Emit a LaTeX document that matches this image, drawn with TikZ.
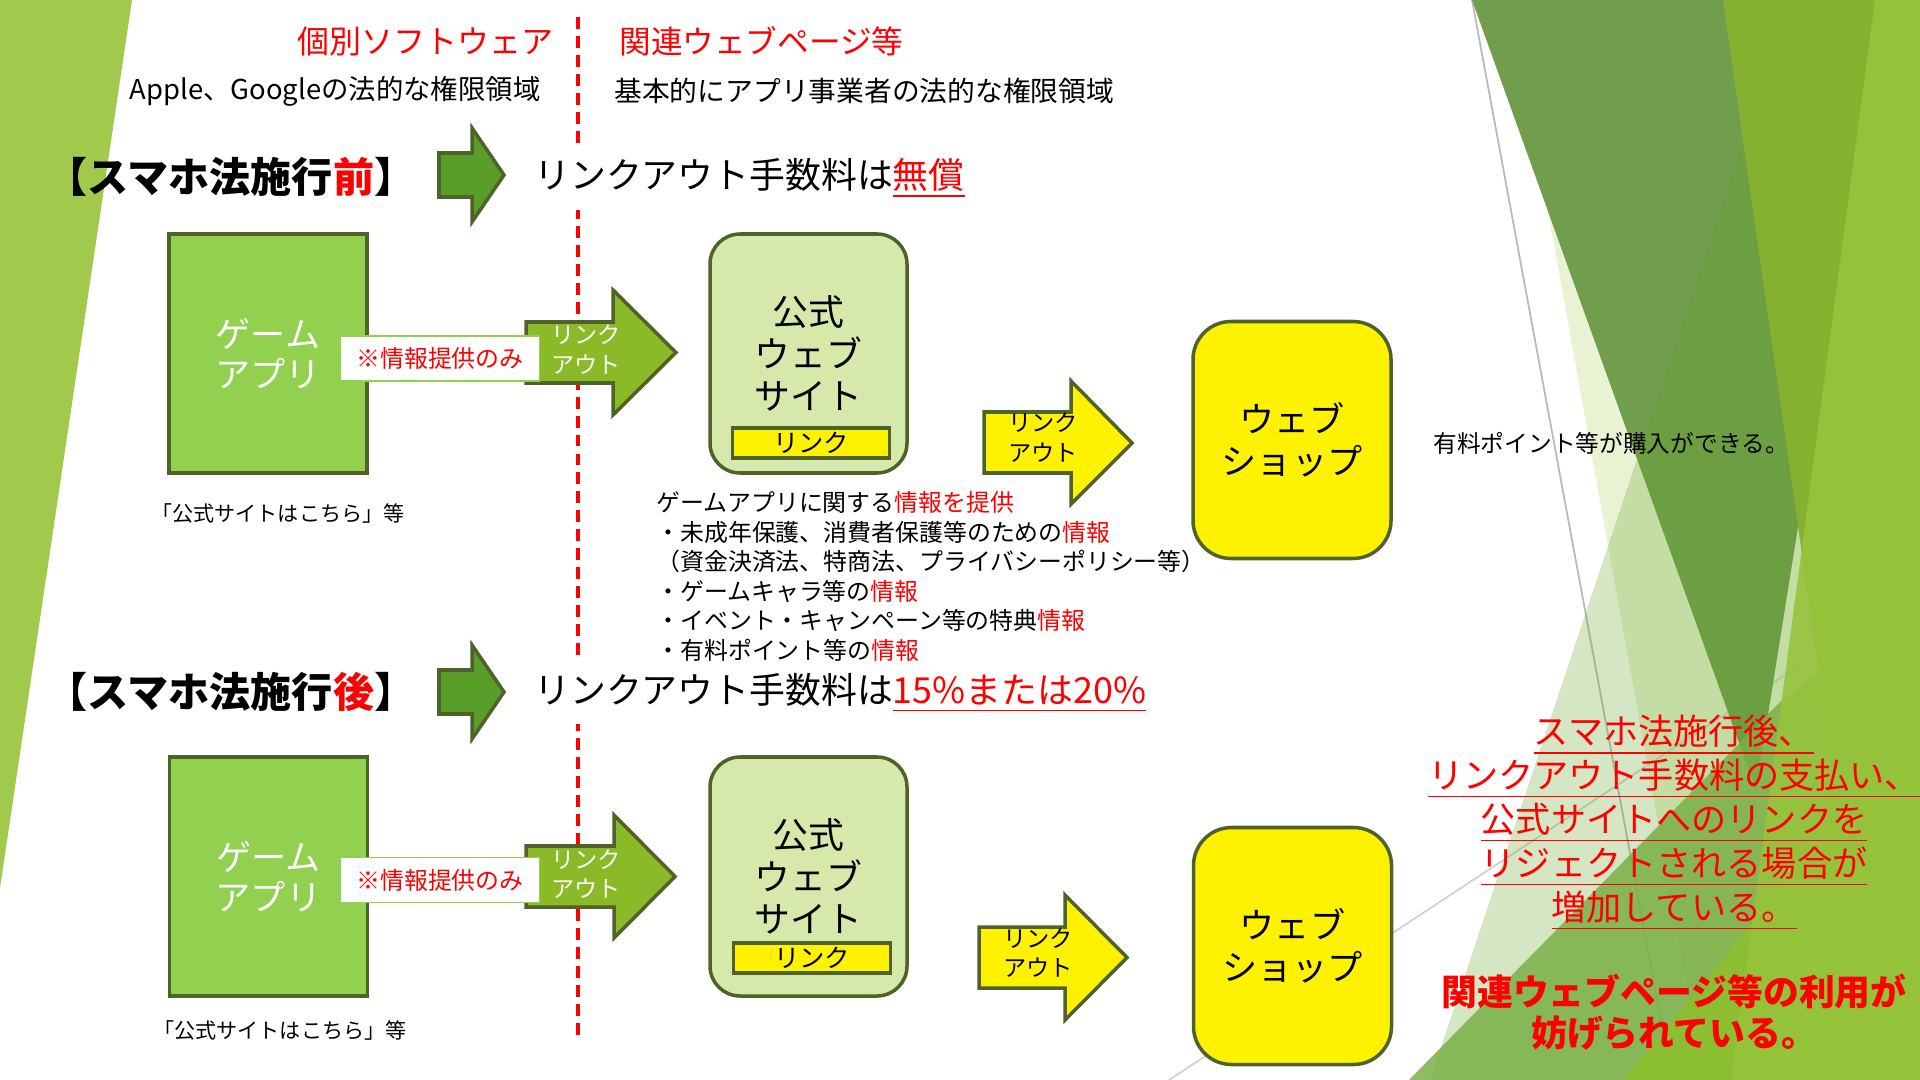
\documentclass[tikz,border=0pt]{standalone}
\usepackage{fontspec}
\setmainfont{Noto Sans CJK JP}

\definecolor{leafgreen}{RGB}{146,208,80}
\definecolor{olivedark}{RGB}{79,98,40}
\definecolor{sitegreen}{RGB}{214,233,170}
\definecolor{linkgreen}{RGB}{139,186,40}
\definecolor{headgreen}{RGB}{90,158,42}
\definecolor{facetleft}{RGB}{161,201,76}
\definecolor{facetgreen}{RGB}{144,194,38}
\definecolor{facetmuted}{RGB}{112,158,76}
\definecolor{facetdark}{RGB}{100,165,40}
\definecolor{facetmid}{RGB}{122,176,70}
\definecolor{facetbright}{RGB}{132,178,48}
\definecolor{facetbottom}{RGB}{139,190,48}
\definecolor{facetlight}{RGB}{150,196,60}

\begin{document}
\begin{tikzpicture}[thick]
\tikzstyle{appbox}=[draw=olivedark,line width=1pt,fill=leafgreen,minimum width=1.98cm,minimum height=2.39cm,inner sep=0pt,text=white,align=center,font=\fontsize{10}{11.4}\selectfont]
\tikzstyle{sitebox}=[draw=olivedark,line width=1pt,fill=sitegreen,rounded corners=0.3cm,minimum width=1.97cm,minimum height=2.39cm,inner sep=0pt,align=center,font=\fontsize{10.2}{12}\selectfont]
\tikzstyle{shopbox}=[draw=olivedark,line width=1pt,fill=yellow,rounded corners=0.38cm,minimum width=1.98cm,minimum height=2.37cm,inner sep=0pt,align=center,font=\fontsize{10}{12}\selectfont]
\tikzstyle{linkbox}=[draw=olivedark,line width=1pt,fill=yellow,minimum width=1.57cm,minimum height=0.30cm,inner sep=0pt,font=\fontsize{7.2}{8}\selectfont]
\tikzstyle{infobox}=[draw=leafgreen,line width=0.5pt,fill=white,minimum width=1.99cm,minimum height=0.45cm,inner sep=0pt,text=red,font=\fontsize{6.8}{8}\selectfont]
\tikzstyle{greenarrow}=[draw=olivedark,line width=1pt,fill=linkgreen]
\tikzstyle{yellowarrow}=[draw=olivedark,line width=1pt,fill=yellow]
\tikzstyle{headarrow}=[draw=olivedark,line width=1pt,fill=headgreen]
\tikzstyle{arrowtext}=[inner sep=0pt,align=center,font=\fontsize{6.6}{8.5}\selectfont]
\tikzstyle{divider}=[red,line width=0.9pt,dash pattern=on 3.4pt off 2pt]
\tikzstyle{heading}=[anchor=west,inner sep=0pt,font=\bfseries\fontsize{11.7}{13}\selectfont]
\tikzstyle{feeline}=[anchor=west,fill=white,inner xsep=0.1cm,inner ysep=0.12cm,font=\fontsize{10.2}{12}\selectfont]
\tikzstyle{note}=[inner sep=0pt,font=\fontsize{6}{7}\selectfont]

\useasboundingbox (0,0) rectangle (19.2,-10.8);

% background facets
\fill[facetleft] (0,0) -- (1.32,0) -- (0,-8.88) -- cycle;
\fill[fill=facetgreen,opacity=0.2] (15.10,0) -- (19.20,0) -- (19.20,-10.80) -- (17.04,-10.80) -- cycle;
\draw[gray!55,line width=0.5pt] (14.72,0) -- (16.72,-10.80);
\draw[gray!35,line width=0.5pt] (11.69,-10.80) -- (19.20,-5.86);
\fill[facetmuted] (14.72,0) -- (18.82,0) -- (17.56,-7.90) -- cycle;
\fill[fill=facetdark,opacity=0.28] (14.30,-10.80) -- (17.90,0) -- (19.20,0) -- (19.20,-10.80) -- cycle;
\fill[fill=facetmid,opacity=0.85] (14.09,-10.80) -- (17.80,-7.02) -- (19.20,-6.00) -- (19.20,-10.80) -- cycle;
\fill[facetbright] (17.23,0) -- (19.20,0) -- (19.20,-10.80) -- (18.77,-10.80) -- cycle;
\fill[facetbottom] (16.23,-10.80) -- (19.20,-7.20) -- (19.20,-10.80) -- cycle;
\fill[fill=facetlight,opacity=0.9] (18.75,0) -- (19.20,0) -- (19.20,-10.80) -- (17.31,-10.80) -- cycle;

% divider
\coordinate (divtop) at (5.78,-0.17);
\coordinate (divbot) at (5.78,-10.35);
\draw[divider] (divtop) -- (divbot);

\node[anchor=east,inner sep=0pt,text=red,font=\fontsize{9.1}{11}\selectfont] (swlabel) at (5.55,-0.41) {個別ソフトウェア};
\node[anchor=west,inner sep=0pt,text=red,font=\fontsize{9}{11}\selectfont] (weblabel) at (6.18,-0.41) {関連ウェブページ等};
\node[anchor=east,inner sep=0pt,font=\fontsize{7.8}{10}\selectfont] (applearea) at (5.42,-0.91) {Apple、Googleの法的な権限領域};
\node[anchor=west,inner sep=0pt,font=\fontsize{7.9}{10}\selectfont] (bizarea) at (6.13,-0.91) {基本的にアプリ事業者の法的な権限領域};

% before
\node[heading] (before) at (0.45,-1.77) {【スマホ法施行\textcolor{red}{前}】};
\draw[headarrow] (4.39,-1.53) -- (4.72,-1.53) -- (4.72,-1.28) -- (5.04,-1.75) -- (4.72,-2.22) -- (4.72,-1.97) -- (4.39,-1.97) -- cycle;
\node[feeline] (feebefore) at (5.23,-1.78) {リンクアウト手数料は\textcolor{red}{\underline{無償}}};

\node[appbox] (game1) at (2.68,-3.535) {ゲーム\\アプリ};
\draw[greenarrow] (5.26,-3.22) -- (6.13,-3.22) -- (6.13,-2.90) -- (6.76,-3.525) -- (6.13,-4.15) -- (6.13,-3.83) -- (5.26,-3.83) -- cycle;
\node[infobox] (info1) at (4.40,-3.585) {※情報提供のみ};
\node[arrowtext,text=white] (lo1) at (5.86,-3.50) {リンク\\アウト};
\node[sitebox] (site1) at (8.085,-3.535) {公式\\ウェブ\\サイト};
\node[linkbox] (link1) at (8.11,-4.43) {リンク};
\draw[yellowarrow] (9.84,-4.12) -- (10.71,-4.12) -- (10.71,-3.81) -- (11.32,-4.43) -- (10.71,-5.04) -- (10.71,-4.73) -- (9.84,-4.73) -- cycle;
\node[arrowtext] (ylo1) at (10.43,-4.38) {リンク\\アウト};
\node[shopbox] (shop1) at (12.92,-4.40) {ウェブ\\ショップ};
\node[note,anchor=west,font=\fontsize{6.75}{8}\selectfont] (paid) at (14.32,-4.43) {有料ポイント等が購入ができる。};
\node[note,anchor=west] (guide1) at (1.50,-5.13) {「公式サイトはこちら」等};

\node[anchor=north west,align=left,inner sep=0pt,font=\fontsize{6.8}{8.4}\selectfont] (infolist) at (6.55,-4.90) {ゲームアプリに関する\textcolor{red}{情報を提供}\\・未成年保護、消費者保護等のための\textcolor{red}{情報}\\（資金決済法、特商法、プライバシーポリシー等）\\・ゲームキャラ等の\textcolor{red}{情報}\\・イベント・キャンペーン等の特典\textcolor{red}{情報}\\・有料ポイント等の\textcolor{red}{情報}};

% after
\node[heading] (after) at (0.45,-6.92) {【スマホ法施行\textcolor{red}{後}】};
\draw[headarrow] (4.39,-6.70) -- (4.72,-6.70) -- (4.72,-6.45) -- (5.04,-6.92) -- (4.72,-7.39) -- (4.72,-7.14) -- (4.39,-7.14) -- cycle;
\node[feeline] (feeafter) at (5.23,-6.93) {リンクアウト手数料は\textcolor{red}{\underline{15\%または20\%}}};

\node[appbox] (game2) at (2.685,-8.765) {ゲーム\\アプリ};
\draw[greenarrow] (5.26,-8.46) -- (6.14,-8.46) -- (6.14,-8.15) -- (6.75,-8.765) -- (6.14,-9.38) -- (6.14,-9.07) -- (5.26,-9.07) -- cycle;
\node[infobox] (info2) at (4.40,-8.80) {※情報提供のみ};
\node[arrowtext,text=white] (lo2) at (5.86,-8.74) {リンク\\アウト};
\node[sitebox] (site2) at (8.085,-8.765) {公式\\ウェブ\\サイト};
\node[linkbox] (link2) at (8.12,-9.58) {リンク};
\draw[yellowarrow] (9.79,-9.27) -- (10.65,-9.27) -- (10.65,-8.95) -- (11.27,-9.575) -- (10.65,-10.20) -- (10.65,-9.88) -- (9.79,-9.88) -- cycle;
\node[arrowtext] (ylo2) at (10.38,-9.53) {リンク\\アウト};
\node[shopbox] (shop2) at (12.925,-9.46) {ウェブ\\ショップ};
\node[note,anchor=west] (guide2) at (1.52,-10.30) {「公式サイトはこちら」等};

\node[align=center,inner sep=0pt,text=red,font=\fontsize{10}{12.5}\selectfont] (reject) at (16.74,-8.23) {\underline{スマホ法施行後、}\\\underline{リンクアウト手数料の支払い、}\\\underline{公式サイトへのリンクを}\\\underline{リジェクトされる場合が}\\\underline{増加している。}};
\node[align=center,inner sep=0pt,text=red,font=\bfseries\fontsize{10.2}{11.7}\selectfont] (blocked) at (16.74,-10.125) {関連ウェブページ等の利用が\\妨げられている。};

\end{tikzpicture}
\end{document}
